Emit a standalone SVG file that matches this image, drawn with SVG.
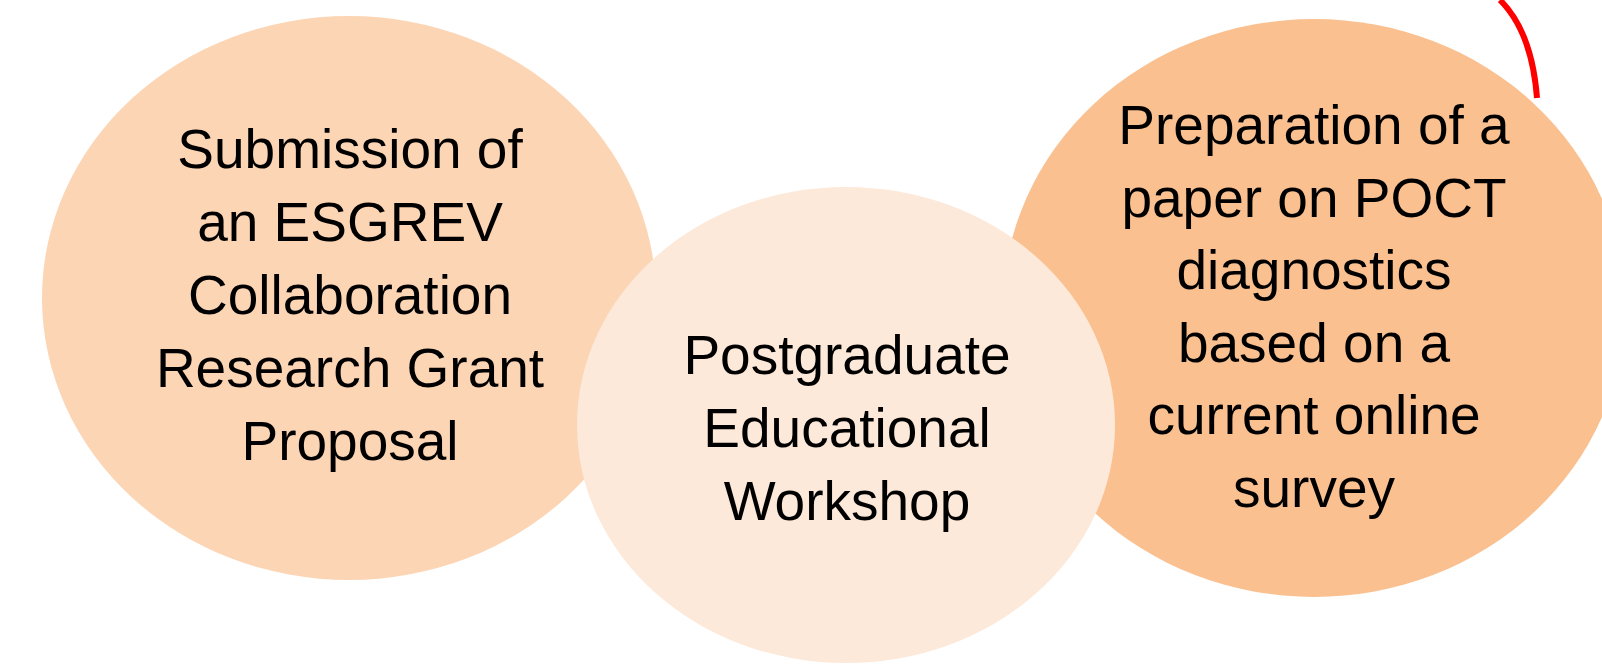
<svg xmlns="http://www.w3.org/2000/svg" width="1602" height="664" viewBox="0 0 1602 664">
<style>
.t{font-family:"Liberation Sans",Arial,sans-serif;font-size:55px;fill:#000;text-anchor:middle}
</style>
<rect width="1602" height="664" fill="#fff"/>
<g id="node-left">
<ellipse cx="349" cy="298" rx="307" ry="282" fill="#FCD5B5"/>
<text class="t"><tspan x="350" y="168">Submission of</tspan><tspan x="350" y="241">an ESGREV</tspan><tspan x="350" y="314">Collaboration</tspan><tspan x="350" y="387">Research Grant</tspan><tspan x="350" y="460">Proposal</tspan></text>
</g>
<g id="node-right">
<ellipse cx="1314" cy="308" rx="311" ry="289" fill="#FAC090"/>
<text class="t"><tspan x="1314" y="144">Preparation of a</tspan><tspan x="1314" y="216.5">paper on POCT</tspan><tspan x="1314" y="289">diagnostics</tspan><tspan x="1314" y="361.5">based on a</tspan><tspan x="1314" y="434">current online</tspan><tspan x="1314" y="506.5">survey</tspan></text>
</g>
<g id="node-middle">
<ellipse cx="846" cy="425" rx="269" ry="238" fill="#FDE9D9"/>
<text class="t"><tspan x="847" y="374">Postgraduate</tspan><tspan x="847" y="447">Educational</tspan><tspan x="847" y="520">Workshop</tspan></text>
</g>
<g id="connectors">
<path d="M1500,0 Q1532,32 1537,98" fill="none" stroke="#FF0000" stroke-width="6"/>
</g>
</svg>
